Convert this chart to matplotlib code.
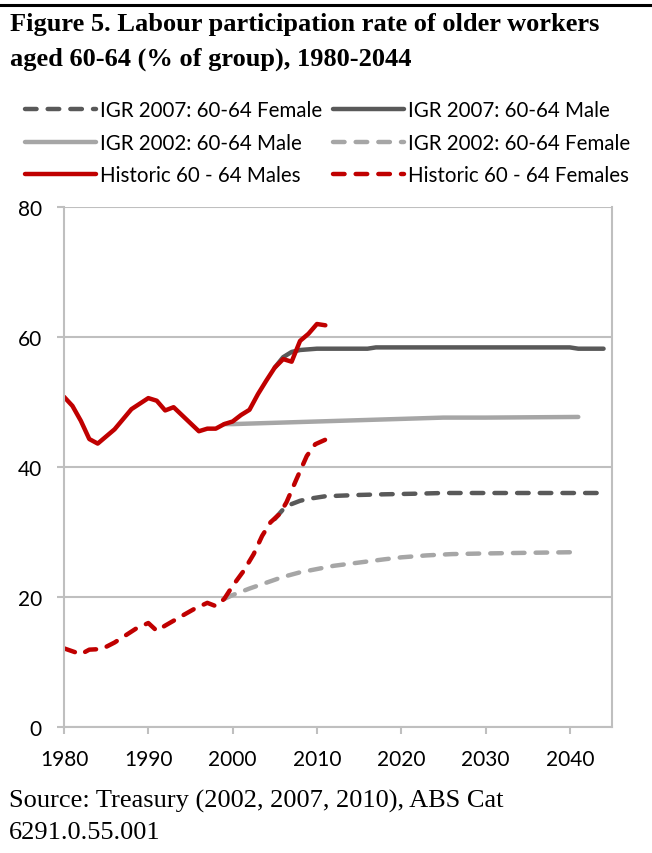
import matplotlib
matplotlib.use('Agg')
import matplotlib.pyplot as plt
from matplotlib.lines import Line2D

# historic series (ABS)
hist_years_m = [1980, 1981, 1982, 1983, 1984, 1986, 1988, 1990, 1991, 1992, 1993,
                1996, 1997, 1998, 1999, 2000, 2001, 2002, 2003, 2004, 2005, 2006,
                2007, 2008, 2009, 2010, 2011]
hist_male = [50.8, 49.4, 47.1, 44.3, 43.6, 45.8, 48.9, 50.6, 50.2, 48.7, 49.2,
             45.5, 45.9, 45.9, 46.6, 47.0, 48.0, 48.8, 51.2, 53.3, 55.3, 56.6,
             56.2, 59.4, 60.5, 62.0, 61.8]

hist_years_f = [1980, 1982, 1983, 1984.5, 1986, 1988.5, 1990, 1991, 1992, 1994,
                1995.5, 1997, 1998, 1999, 2000, 2001.3, 2002.5, 2003.5, 2004.5,
                2005.6, 2006.4, 2007.6, 2008.8, 2009.8, 2011]
hist_female = [12.1, 11.2, 11.9, 12.0, 13.0, 15.1, 16.0, 14.8, 15.6, 17.1,
               18.2, 19.1, 18.6, 19.7, 21.7, 24.0, 26.6, 29.4, 31.5,
               32.8, 34.6, 38.2, 41.7, 43.5, 44.2]

# IGR 2007 projections
igr07_years_m = [2005, 2006, 2007, 2008, 2009, 2010, 2012, 2016, 2017, 2040, 2041, 2044]
igr07_male = [55.3, 56.9, 57.7, 58.0, 58.1, 58.2, 58.2, 58.2, 58.4, 58.4, 58.2, 58.2]
igr07_years_f = [2005, 2006, 2007, 2008, 2009, 2010, 2011, 2013, 2015, 2018, 2022, 2025, 2044]
igr07_female = [32.0, 33.5, 34.3, 34.8, 35.1, 35.3, 35.5, 35.6, 35.7, 35.8, 35.9, 36.0, 36.0]

# IGR 2002 projections
igr02_years_m = [1999, 2000, 2005, 2010, 2015, 2020, 2025, 2030, 2041]
igr02_male = [46.6, 46.6, 46.8, 47.0, 47.2, 47.4, 47.6, 47.6, 47.7]
igr02_years_f = [1999, 2000, 2002, 2004, 2006, 2008, 2010, 2012, 2015, 2018, 2020,
                 2023, 2026, 2030, 2035, 2041]
igr02_female = [19.7, 20.3, 21.3, 22.2, 23.1, 23.8, 24.3, 24.8, 25.3, 25.8, 26.1,
                26.4, 26.6, 26.7, 26.8, 26.9]

xticks = [1980, 1990, 2000, 2010, 2020, 2030, 2040]
yticks = [0, 20, 40, 60, 80]

DARK = '#595959'
LIGHT = '#A6A6A6'
RED = '#C00000'
GRID = '#BFBFBF'
LW = 3.2
DASH = (2.6, 2.5)

plt.rcParams['font.family'] = ['Lato', 'DejaVu Sans']

fig = plt.figure(figsize=(6.52, 8.54), dpi=100)
ax = fig.add_axes([64/652, 1 - 728/854, (612-64)/652, (728-208)/854])

def dashed(x, y, c, label):
    ln, = ax.plot(x, y, color=c, lw=LW, label=label, dash_capstyle='round',
                  solid_capstyle='round')
    ln.set_dashes(DASH)
    return ln

def solid(x, y, c, label):
    ln, = ax.plot(x, y, color=c, lw=LW, label=label, solid_capstyle='round',
                  solid_joinstyle='round')
    return ln

h1 = dashed(igr07_years_f, igr07_female, DARK, 'IGR 2007: 60-64 Female')
h2 = solid(igr07_years_m, igr07_male, DARK, 'IGR 2007: 60-64 Male')
h3 = solid(igr02_years_m, igr02_male, LIGHT, 'IGR 2002: 60-64 Male')
h4 = dashed(igr02_years_f, igr02_female, LIGHT, 'IGR 2002: 60-64 Female')
h5 = solid(hist_years_m, hist_male, RED, 'Historic 60 - 64 Males')
h6 = dashed(hist_years_f, hist_female, RED, 'Historic 60 - 64 Females')

ax.set_xlim(1980, 2045)
ax.set_ylim(0, 80)
ax.set_xticks(xticks)
ax.set_yticks(yticks)
ax.yaxis.grid(True, color=GRID, lw=1.5)
ax.set_axisbelow(True)
for s in ax.spines.values():
    s.set_color(GRID)
    s.set_linewidth(1.5)
ax.spines['top'].set_visible(False)
ax.tick_params(axis='both', colors=GRID, length=5, width=1.5, labelsize=15,
               labelcolor='black')
ax.tick_params(axis='x', pad=11)
ax.tick_params(axis='y', pad=11)

# legend
handles = [h1, h3, h5, h2, h4, h6]
fig.legend(handles=handles, labels=[h.get_label() for h in handles], ncol=2,
           loc='upper left', bbox_to_anchor=(25/652, 1 - 101/854), frameon=False,
           fontsize=14.8, handlelength=3.45, handletextpad=0.2, columnspacing=0.55,
           labelspacing=0.62, borderpad=0, borderaxespad=0)

# title & source
fig.add_artist(Line2D([0, 1], [1 - 6/854, 1 - 6/854], color='black', lw=2.2,
                      transform=fig.transFigure))
fig.text(10/652, 1 - 25/854, 'Figure 5. Labour participation rate of older workers',
         family='Liberation Serif', weight='bold', fontsize=19, va='center')
fig.text(10/652, 1 - 59/854, 'aged 60-64 (% of group), 1980-2044',
         family='Liberation Serif', weight='bold', fontsize=19, va='center')
fig.text(9/652, 1 - 801/854, 'Source: Treasury (2002, 2007, 2010), ABS Cat',
         family='Liberation Serif', fontsize=19, va='center')
fig.text(9/652, 1 - 833/854, '6291.0.55.001',
         family='Liberation Serif', fontsize=19, va='center')

fig.savefig('out.png', dpi=100)
